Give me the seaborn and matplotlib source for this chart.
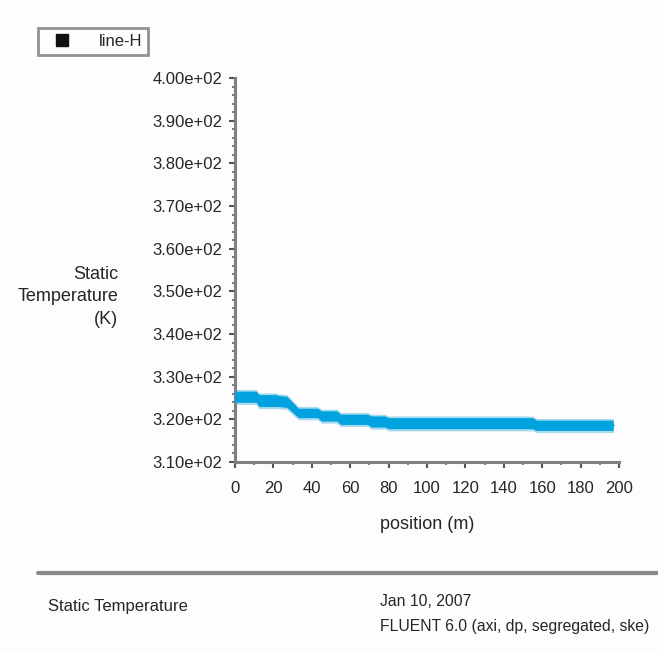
import matplotlib
matplotlib.use("Agg")
import matplotlib.pyplot as plt
from matplotlib.lines import Line2D
from matplotlib.ticker import MultipleLocator, FuncFormatter
import numpy as np
import pandas as pd
import seaborn as sns

# Static temperature along line-H (band between lowest and highest node values)
position = [0, 11, 12.5, 21, 22.5, 27, 33, 43, 45, 53, 55, 69, 71, 78, 80,
            155, 157, 197]
temp_upper = [326.6, 326.6, 325.8, 325.8, 325.6, 325.4, 322.6, 322.6, 322.0, 322.0,
              321.2, 321.2, 320.8, 320.8, 320.4, 320.4, 319.8, 319.8]
temp_lower = [324.0, 324.0, 323.0, 323.0, 323.0, 322.8, 320.4, 320.4, 319.6, 319.6,
              318.8, 318.8, 318.2, 318.2, 317.8, 317.8, 317.4, 317.4]

x_ticks = list(range(0, 201, 20))
y_ticks = list(range(310, 401, 10))

series_name = "line-H"
y_label = "Static\nTemperature\n(K)"
x_label = "position (m)"
footer_left = "Static Temperature"
footer_right = ["Jan 10, 2007", "FLUENT 6.0 (axi, dp, segregated, ske)"]

sns.set_theme(style="white")
plt.rcParams["font.family"] = ["Liberation Sans Narrow", "Liberation Sans", "DejaVu Sans"]

df = pd.DataFrame({
    "position": position,
    "upper": temp_upper,
    "lower": temp_lower,
})
df["mid"] = (df["upper"] + df["lower"]) / 2

txt = "#262626"
fig = plt.figure(figsize=(6.58, 6.52), dpi=100, facecolor="#fdfdfd")
ax = fig.add_axes([235 / 658, 1 - 462 / 652, 384 / 658, 384 / 652])
ax.set_facecolor("#fdfdfd")

blue = "#00a3e0"
light = "#a8d9ef"
ax.fill_between(df["position"], df["lower"] - 0.5, df["upper"] + 0.4,
                color=light, lw=0, zorder=2)
ax.fill_between(df["position"], df["lower"], df["upper"], color=blue, lw=0, zorder=3)
sns.lineplot(data=df, x="position", y="mid", color=blue, lw=2, ax=ax, zorder=4)

ax.set_xlim(0, 200)
ax.set_ylim(310, 400)
ax.set_xticks(x_ticks)
ax.set_yticks(y_ticks)
ax.xaxis.set_minor_locator(MultipleLocator(10))
ax.yaxis.set_minor_locator(MultipleLocator(2))
ax.yaxis.set_major_formatter(FuncFormatter(lambda v, p: f"{v:.2e}"))

for side in ("top", "right"):
    ax.spines[side].set_visible(False)
for side in ("left", "bottom"):
    ax.spines[side].set_color("#808080")
    ax.spines[side].set_linewidth(2.2)
ax.tick_params(axis="both", which="major", direction="out", length=4, width=1.5,
               color="#555555", labelsize=12, labelcolor=txt, pad=5,
               left=True, bottom=True)
ax.tick_params(axis="x", which="major", pad=10)
ax.tick_params(axis="both", which="minor", direction="out", length=2.5, width=1.2,
               color="#666666", left=True, bottom=True)

ax.set_xlabel(x_label, fontsize=13, color=txt, labelpad=14)
ax.set_ylabel("")
fig.text(118 / 658, 1 - 297 / 652, y_label, ha="right", va="center",
         fontsize=13, color=txt, linespacing=1.4)

# legend box
handle = Line2D([], [], ls="none", marker="s", markersize=9, color="#111111")
leg = fig.legend([handle], [series_name], loc="upper left",
                 bbox_to_anchor=(38 / 658, 1 - 28 / 652), frameon=True,
                 fancybox=False, fontsize=12, handlelength=2.2,
                 borderpad=0.35, handletextpad=1.1, borderaxespad=0)
leg.get_frame().set_edgecolor("#777777")
leg.get_frame().set_linewidth(2)
for t in leg.get_texts():
    t.set_color(txt)

# footer
fig.add_artist(Line2D([38 / 658, 1.0], [1 - 573 / 652, 1 - 573 / 652],
                      transform=fig.transFigure, color="#8a8a8a", lw=3))
fig.text(48 / 658, 1 - 607 / 652, footer_left, ha="left", va="center",
         fontsize=12, color=txt)
fig.text(380 / 658, 1 - 602 / 652, footer_right[0], ha="left", va="center",
         fontsize=11.3, color=txt)
fig.text(380 / 658, 1 - 626 / 652, footer_right[1], ha="left", va="center",
         fontsize=11.3, color=txt)

fig.savefig("out.png", dpi=100, facecolor=fig.get_facecolor())
